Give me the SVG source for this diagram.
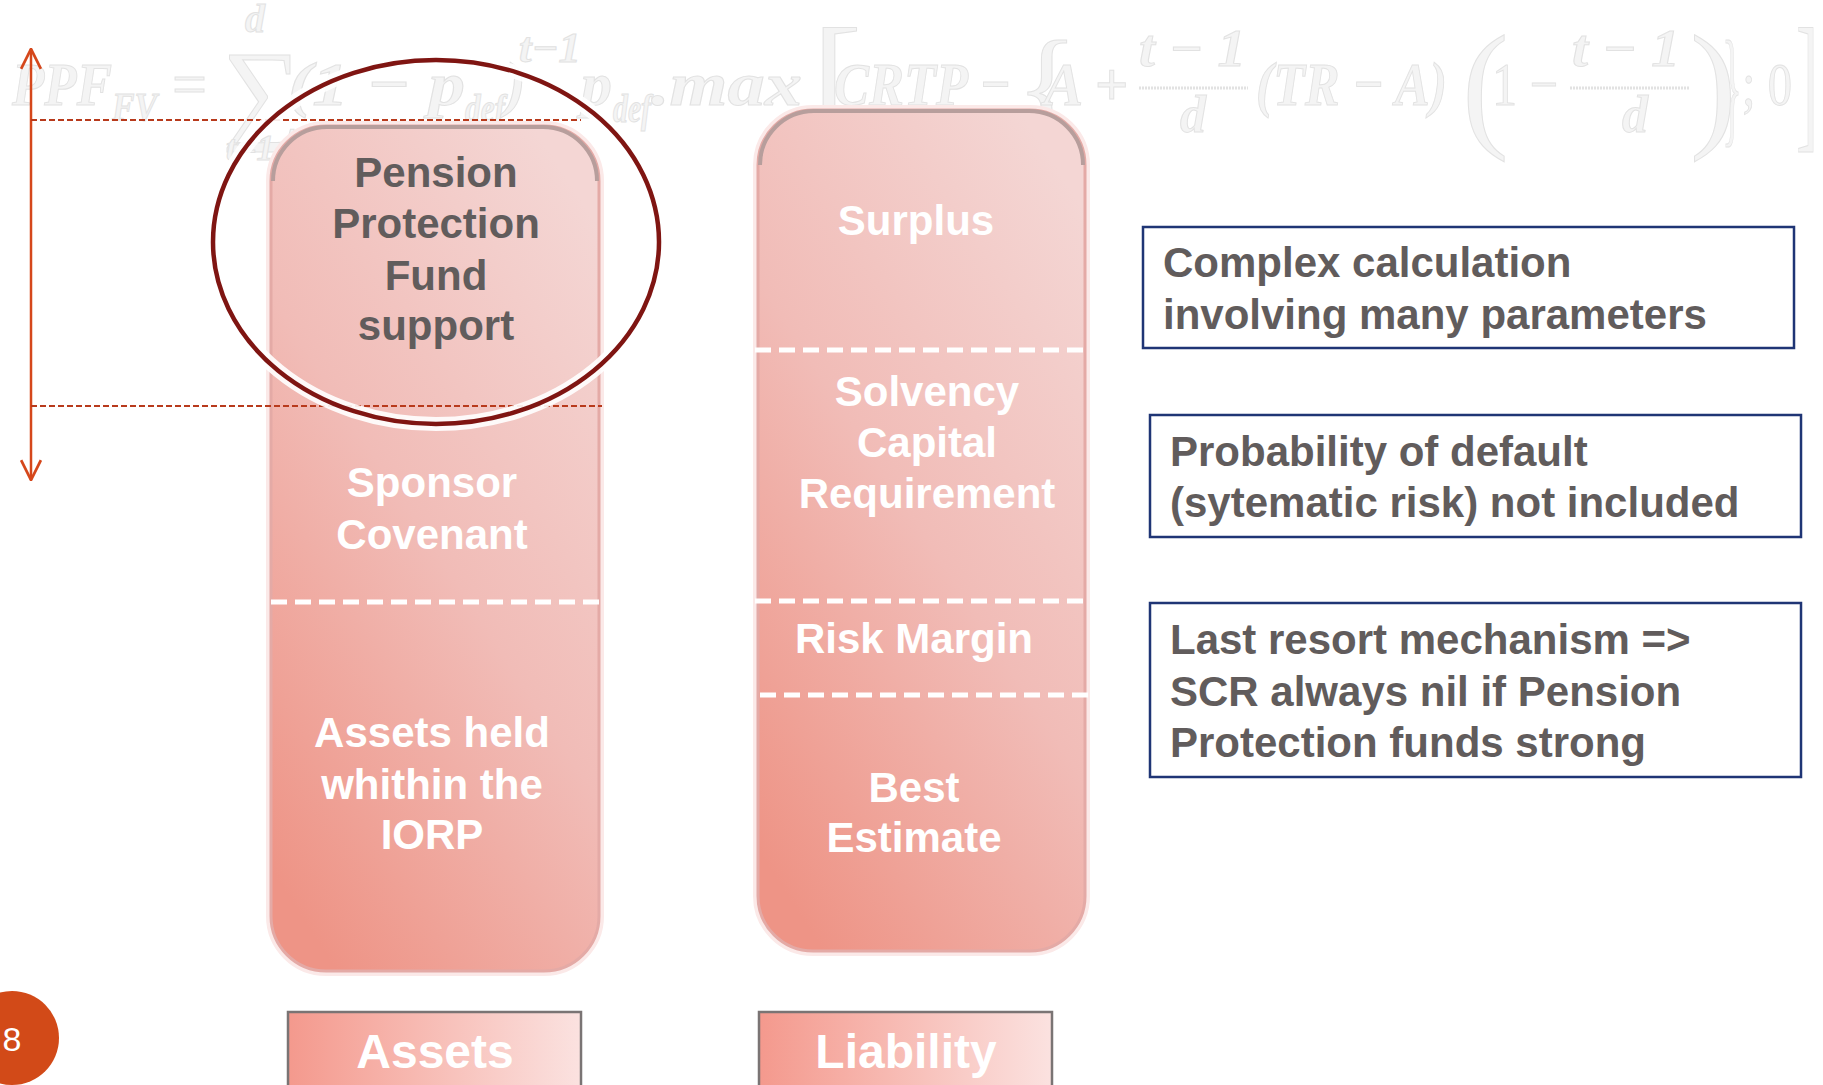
<svg xmlns="http://www.w3.org/2000/svg" width="1823" height="1085" viewBox="0 0 1823 1085">
<style>
  .f { font-family: "Liberation Serif", "DejaVu Serif", serif; font-style: italic; font-weight: bold; fill: #f4f4f4; stroke: #e2e2e2; stroke-width: 1; }
  .fu { font-family: "Liberation Serif", "DejaVu Serif", serif; fill: #f4f4f4; stroke: #e2e2e2; stroke-width: 1; }
  .col { stroke: #e4aaa6; stroke-width: 3; }
  .halo { fill: none; stroke: #fbe9e8; stroke-width: 10; }
  .top { fill: none; stroke: #b79e9c; stroke-width: 4; }
  .in { font-family: "Liberation Sans", Arial, sans-serif; font-weight: bold; font-size: 42px; text-anchor: middle; fill: #ffffff; }
  .dk { fill: #615c5c; }
  .wd { stroke: #ffffff; stroke-width: 5; stroke-dasharray: 16 8; fill: none; }
  .rd { stroke: #b83a1c; stroke-width: 2.2; stroke-dasharray: 6 3; fill: none; }
  .box { fill: #ffffff; stroke: #1f3575; stroke-width: 2.5; }
  .bt { font-family: "Liberation Sans", Arial, sans-serif; font-weight: bold; font-size: 42px; fill: #615c5c; }
  .lab { stroke: #7a7474; stroke-width: 2.5; }
  .lt { font-family: "Liberation Sans", Arial, sans-serif; font-weight: bold; font-size: 48px; text-anchor: middle; fill: #ffffff; }
</style>
<defs>
  <linearGradient id="colg" x1="0.8" y1="0" x2="0.2" y2="1">
    <stop offset="0" stop-color="#f4d6d4"/>
    <stop offset="0.5" stop-color="#f1bcb7"/>
    <stop offset="1" stop-color="#ee9486"/>
  </linearGradient>
  <linearGradient id="labg" x1="0" y1="0" x2="1" y2="0">
    <stop offset="0" stop-color="#f4998d"/>
    <stop offset="1" stop-color="#fbe2e0"/>
  </linearGradient>
  <marker id="ah" viewBox="0 0 20 20" refX="19" refY="10" markerWidth="22" markerHeight="22" markerUnits="userSpaceOnUse" orient="auto-start-reverse">
    <path d="M1,1 L19,10 L1,19" fill="none" stroke="#d5471b" stroke-width="2.5"/>
  </marker>
</defs>

<!-- faint formula -->
<g id="formula">
  <text class="f" x="12" y="105" font-size="62" textLength="100" lengthAdjust="spacingAndGlyphs">PPF</text>
  <text class="f" x="112" y="120" font-size="40" textLength="45" lengthAdjust="spacingAndGlyphs">FV</text>
  <text class="fu" x="172" y="105" font-size="62">=</text>
  <text class="fu" x="222" y="128" font-size="112">∑</text>
  <text class="f" x="245" y="32" font-size="40">d</text>
  <text class="f" x="226" y="160" font-size="36">t=1</text>
  <text class="f" x="288" y="105" font-size="62" textLength="177" lengthAdjust="spacingAndGlyphs">(1 − p</text>
  <text class="f" x="465" y="122" font-size="40" textLength="40" lengthAdjust="spacingAndGlyphs">def</text>
  <text class="f" x="505" y="105" font-size="62">)</text>
  <text class="f" x="519" y="62" font-size="42" textLength="62" lengthAdjust="spacingAndGlyphs">t−1</text>
  <text class="f" x="581" y="105" font-size="62">p</text>
  <text class="f" x="613" y="122" font-size="40" textLength="38" lengthAdjust="spacingAndGlyphs">def</text>
  <text class="f" x="651" y="105" font-size="62" textLength="151" lengthAdjust="spacingAndGlyphs">.max</text>
  <text class="fu" x="812" y="132" font-size="150">[</text>
  <text class="f" x="834" y="105" font-size="62" textLength="177" lengthAdjust="spacingAndGlyphs">CRTP −</text>
  <text class="fu" x="1016" y="130" font-size="130">{</text>
  <text class="f" x="1044" y="105" font-size="62" textLength="84" lengthAdjust="spacingAndGlyphs">A +</text>
  <text class="f" x="1139" y="66" font-size="52" textLength="107" lengthAdjust="spacingAndGlyphs">t − 1</text>
  <line x1="1139" y1="88" x2="1248" y2="88" stroke="#e2e2e2" stroke-width="3" stroke-dasharray="2 1"/>
  <text class="f" x="1180" y="132" font-size="52">d</text>
  <text class="f" x="1256" y="105" font-size="62" textLength="191" lengthAdjust="spacingAndGlyphs">(TR − A)</text>
  <text class="fu" x="1462" y="132" font-size="140">(</text>
  <text class="fu" x="1492" y="105" font-size="62" textLength="66" lengthAdjust="spacingAndGlyphs">1 −</text>
  <text class="f" x="1572" y="66" font-size="52" textLength="108" lengthAdjust="spacingAndGlyphs">t − 1</text>
  <line x1="1570" y1="88" x2="1690" y2="88" stroke="#e2e2e2" stroke-width="3" stroke-dasharray="2 1"/>
  <text class="f" x="1622" y="132" font-size="52">d</text>
  <text class="fu" x="1690" y="132" font-size="140">)</text>
  <text class="fu" x="1722" y="130" font-size="130" textLength="20" lengthAdjust="spacingAndGlyphs">}</text>
  <text class="fu" x="1742" y="105" font-size="62" textLength="50" lengthAdjust="spacingAndGlyphs">; 0</text>
  <text class="fu" x="1796" y="132" font-size="150" textLength="22" lengthAdjust="spacingAndGlyphs">]</text>
</g>

<!-- Assets column -->
<g id="assets-column">
  <rect class="halo" x="271" y="126" width="328" height="845" rx="55"/>
  <rect class="col" x="271" y="126" width="328" height="845" rx="55" fill="url(#colg)"/>
  <path class="top" d="M273,181 A54,54 0 0 1 327,127 L543,127 A54,54 0 0 1 597,181"/>
  <line class="wd" x1="271" y1="602" x2="599" y2="602"/>
</g>
<g id="node-ppf">
  <text class="in dk" x="436" y="187">Pension</text>
  <text class="in dk" x="436" y="238">Protection</text>
  <text class="in dk" x="436" y="290">Fund</text>
  <text class="in dk" x="436" y="340">support</text>
</g>
<g id="node-sponsor">
  <text class="in" x="432" y="497">Sponsor</text>
  <text class="in" x="432" y="549">Covenant</text>
</g>
<g id="node-assets-held">
  <text class="in" x="432" y="747">Assets held</text>
  <text class="in" x="432" y="799">whithin the</text>
  <text class="in" x="432" y="849">IORP</text>
</g>

<!-- Liability column -->
<g id="liability-column">
  <rect class="halo" x="758" y="110" width="327" height="841" rx="55"/>
  <rect class="col" x="758" y="110" width="327" height="841" rx="55" fill="url(#colg)"/>
  <path class="top" d="M760,165 A54,54 0 0 1 814,111 L1029,111 A54,54 0 0 1 1083,165"/>
  <line class="wd" x1="755" y1="350" x2="1083" y2="350"/>
  <line class="wd" x1="755" y1="601" x2="1083" y2="601"/>
  <line class="wd" x1="760" y1="695" x2="1088" y2="695"/>
</g>
<g id="node-surplus"><text class="in" x="916" y="235">Surplus</text></g>
<g id="node-scr">
  <text class="in" x="927" y="406">Solvency</text>
  <text class="in" x="927" y="457">Capital</text>
  <text class="in" x="927" y="508">Requirement</text>
</g>
<g id="node-risk-margin"><text class="in" x="914" y="653">Risk Margin</text></g>
<g id="node-best-estimate">
  <text class="in" x="914" y="802">Best</text>
  <text class="in" x="914" y="852">Estimate</text>
</g>

<!-- connectors: range arrow and dashed guides -->
<g id="connectors">
  <line x1="31" y1="480" x2="31" y2="49" stroke="#d5471b" stroke-width="2.5" marker-start="url(#ah)" marker-end="url(#ah)"/>
  <line class="rd" x1="31" y1="120" x2="581" y2="120"/>
  <line class="rd" x1="31" y1="406" x2="602" y2="406"/>
</g>

<!-- highlight ellipse -->
<g id="highlight">
  <ellipse cx="436" cy="242" rx="223" ry="182" fill="none" stroke="#ffffff" stroke-width="14" opacity="0.9"/>
  <ellipse cx="436" cy="242" rx="223" ry="182" fill="none" stroke="#7f1512" stroke-width="4.5"/>
</g>

<!-- note boxes -->
<g id="note-complex">
  <rect class="box" x="1143" y="227" width="651" height="121"/>
  <text class="bt" x="1163" y="277">Complex calculation</text>
  <text class="bt" x="1163" y="329">involving many parameters</text>
</g>
<g id="note-probability">
  <rect class="box" x="1150" y="415" width="651" height="122"/>
  <text class="bt" x="1170" y="466">Probability of default</text>
  <text class="bt" x="1170" y="517">(sytematic risk) not included</text>
</g>
<g id="note-last-resort">
  <rect class="box" x="1150" y="603" width="651" height="174"/>
  <text class="bt" x="1170" y="654">Last resort mechanism =&gt;</text>
  <text class="bt" x="1170" y="706">SCR always nil if Pension</text>
  <text class="bt" x="1170" y="757">Protection funds strong</text>
</g>

<!-- bottom labels -->
<g id="label-assets">
  <rect class="lab" x="288" y="1012" width="293" height="90" fill="url(#labg)"/>
  <text class="lt" x="435" y="1068">Assets</text>
</g>
<g id="label-liability">
  <rect class="lab" x="759" y="1012" width="293" height="90" fill="url(#labg)"/>
  <text class="lt" x="906" y="1068">Liability</text>
</g>

<!-- page badge -->
<g id="page-badge">
  <circle cx="12" cy="1038" r="47" fill="#d24a18"/>
  <text x="12" y="1051" font-family="Liberation Sans, Arial, sans-serif" font-size="34" fill="#ffffff" text-anchor="middle">8</text>
</g>
</svg>
